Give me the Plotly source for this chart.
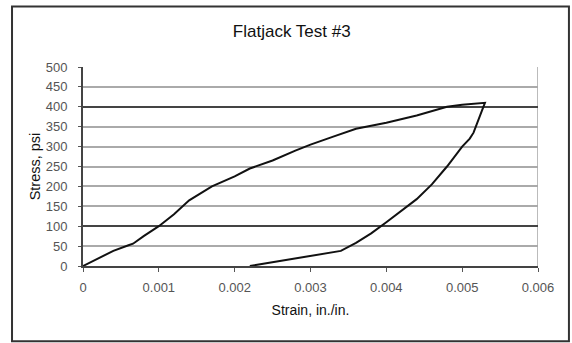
import plotly.graph_objects as go

# Loading branch
load_strain = [0, 0.0002, 0.0004, 0.0006, 0.00066, 0.0008, 0.001, 0.0012, 0.0014,
               0.0017, 0.002, 0.0022, 0.0025, 0.0028, 0.003, 0.0033, 0.0036, 0.004,
               0.0044, 0.0048, 0.005, 0.0053]
load_stress = [0, 18, 38, 52, 56, 75, 100, 130, 165, 200, 225, 245, 265, 290, 305,
               325, 345, 360, 378, 400, 405, 410]

# Unloading branch
unload_strain = [0.0053, 0.00522, 0.00515, 0.0051, 0.005, 0.0048, 0.0046, 0.0044,
                 0.0042, 0.004, 0.0038, 0.0036, 0.0034, 0.003, 0.0026, 0.0024, 0.0022]
unload_stress = [410, 370, 335, 320, 300, 250, 205, 168, 138, 110, 82, 58, 38, 25, 12, 6, 0]

x_ticks = [0, 0.001, 0.002, 0.003, 0.004, 0.005, 0.006]
x_labels = ["0", "0.001", "0.002", "0.003", "0.004", "0.005", "0.006"]
y_ticks = [0, 50, 100, 150, 200, 250, 300, 350, 400, 450, 500]
dark_grid = [100, 400]

fig = go.Figure()
fig.add_trace(go.Scatter(x=load_strain + unload_strain[1:], y=load_stress + unload_stress[1:],
                         mode="lines", line=dict(color="#111111", width=2),
                         showlegend=False, hoverinfo="skip"))
fig.add_trace(go.Scatter(x=[0], y=[0], yaxis="y2", mode="markers",
                         marker=dict(opacity=0), showlegend=False, hoverinfo="skip"))

fig.update_layout(
    width=572, height=343,
    margin=dict(l=83, r=34, t=67, b=77, autoexpand=False),
    paper_bgcolor="white", plot_bgcolor="white",
    font=dict(family="Liberation Sans, Arial, sans-serif", color="#222222"),
    title=dict(text="Flatjack Test #3", x=0.51, xanchor="center", y=0.91, yanchor="middle",
               font=dict(size=17, color="#111111")),
    xaxis=dict(range=[0, 0.006], tickvals=x_ticks, ticktext=x_labels,
               showgrid=False, zeroline=False,
               showline=True, linecolor="#444444", linewidth=2,
               mirror=False, ticks="outside", ticklen=4, tickcolor="#555555",
               ticklabelstandoff=4,
               tickfont=dict(size=13, color="#555555"),
               title=dict(text="Strain, in./in.", font=dict(size=14, color="#111111"), standoff=12)),
    yaxis=dict(range=[0, 500], tickvals=y_ticks, showgrid=True, gridcolor="#aaaaaa",
               gridwidth=2, zeroline=False, showline=True, linecolor="#444444", linewidth=2,
               ticks="outside", ticklen=3, tickcolor="#555555",
               ticklabelstandoff=8,
               tickfont=dict(size=13, color="#555555"),
               title=dict(text="Stress, psi", font=dict(size=14.5, color="#111111"), standoff=2)),
    yaxis2=dict(range=[0, 500], overlaying="y", tickvals=dark_grid, showticklabels=False,
                showgrid=True, gridcolor="#444444", gridwidth=2, zeroline=False, ticks=""),
    shapes=[
        dict(type="line", xref="x", yref="y", x0=0.006, x1=0.006, y0=0, y1=500,
             line=dict(color="#bbbbbb", width=2), layer="below"),
        dict(type="rect", xref="paper", yref="paper",
             x0=-0.156, x1=1.068, y0=-0.378, y1=1.304,
             line=dict(color="#333333", width=2)),
    ],
)

fig.write_html("out.html", config={"displayModeBar": False},
               post_script="document.body.style.margin='0';")
